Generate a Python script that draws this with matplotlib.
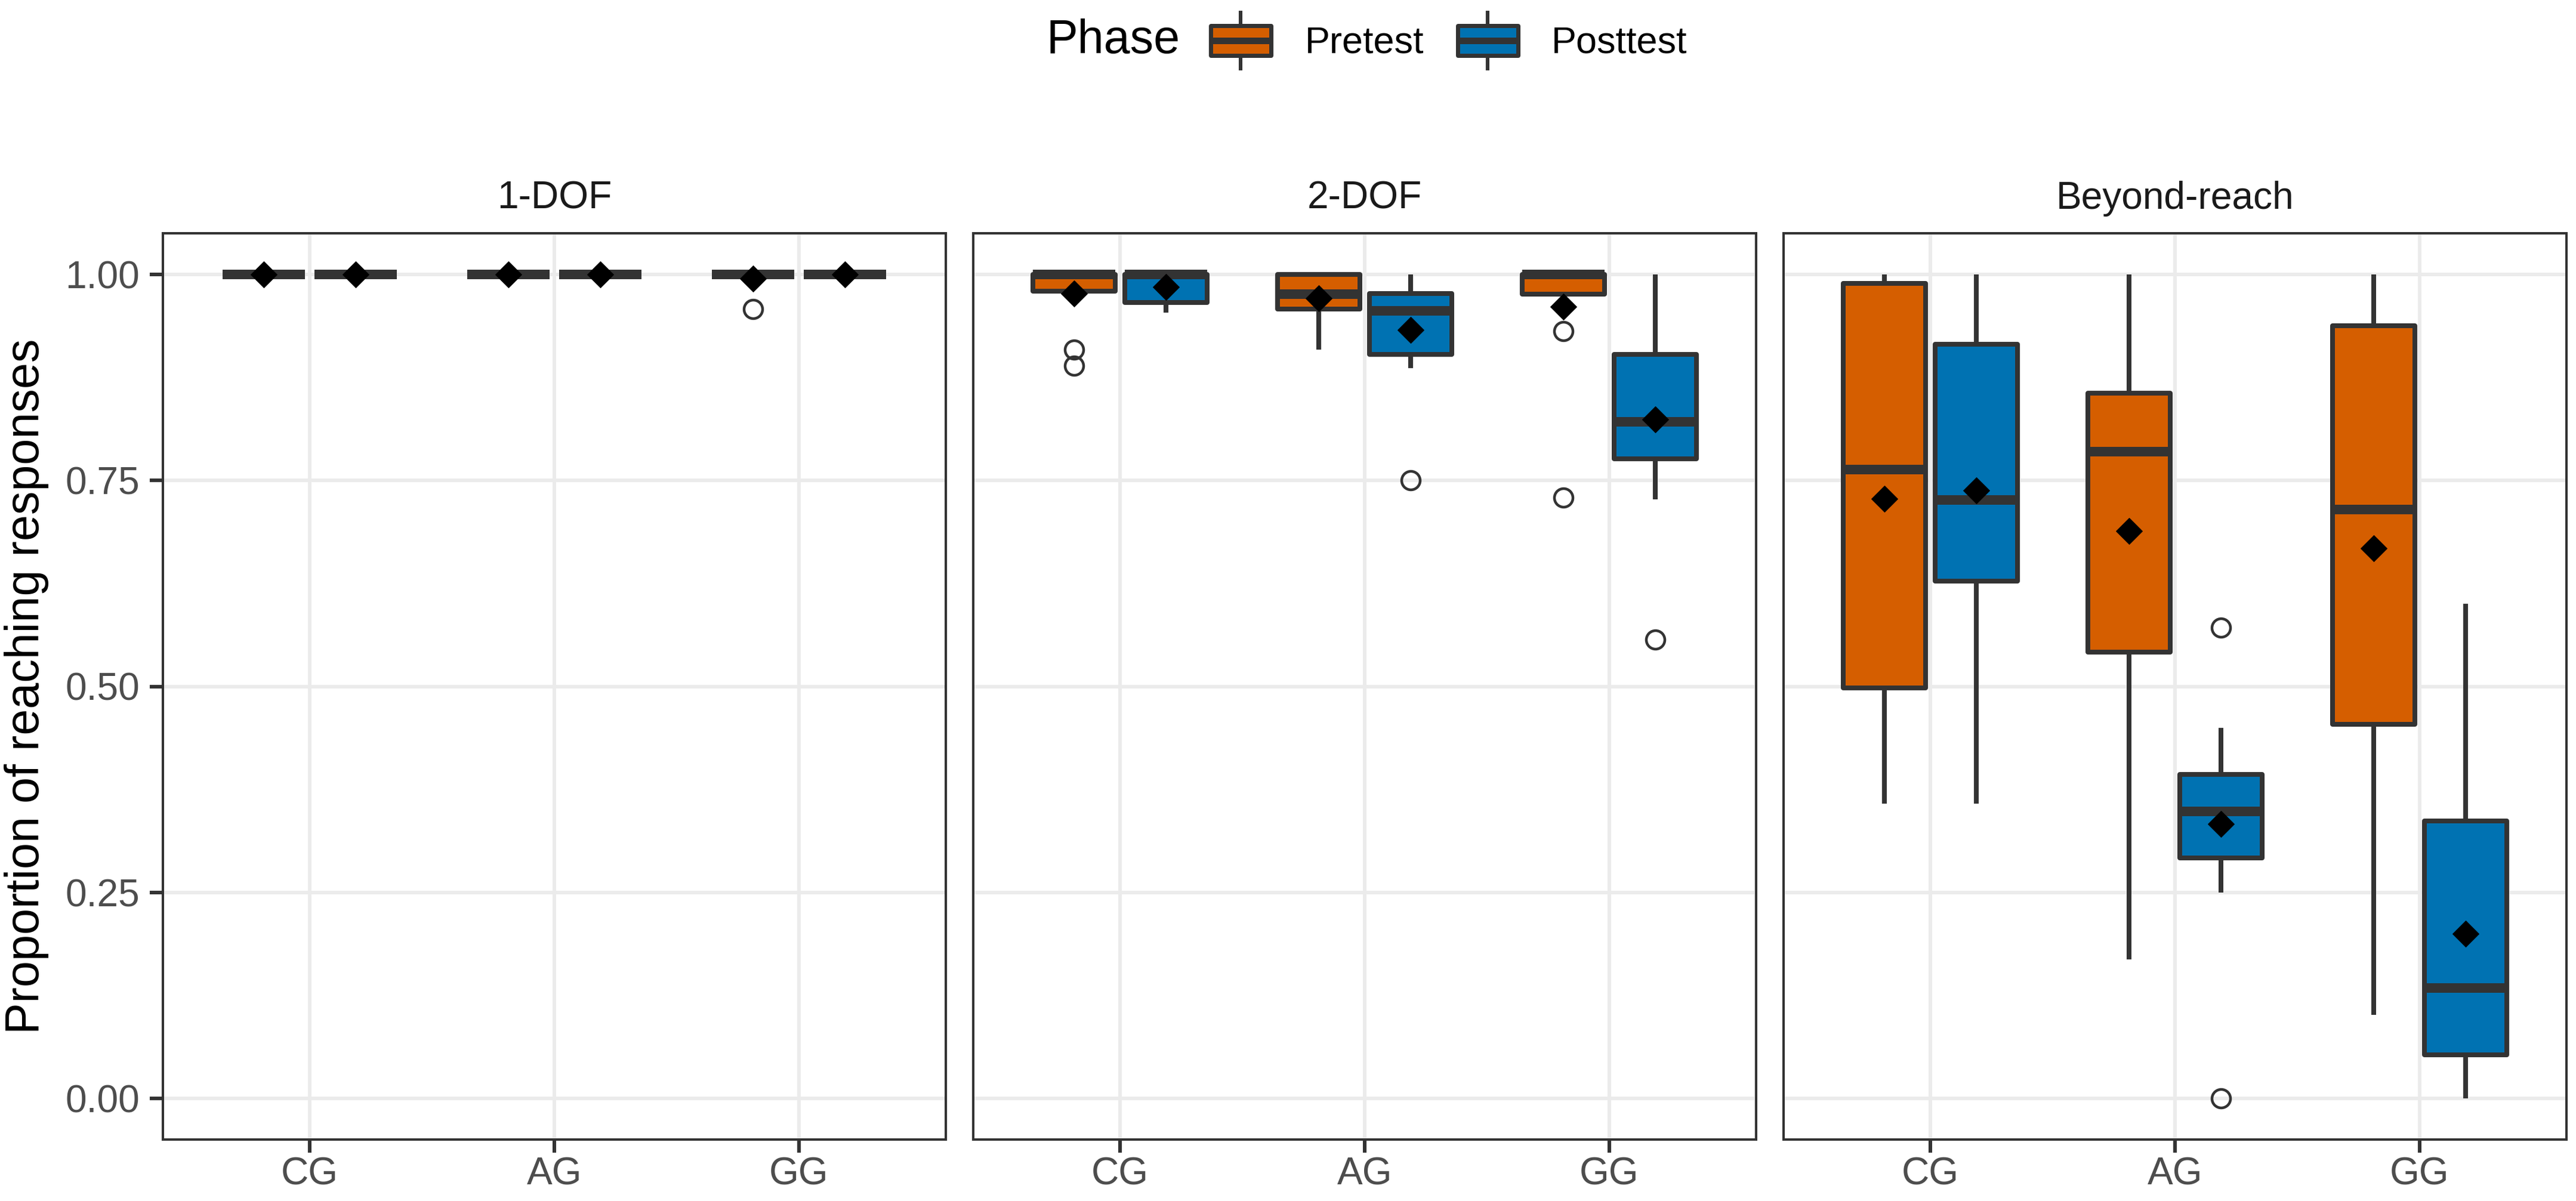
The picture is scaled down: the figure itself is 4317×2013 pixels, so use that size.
import matplotlib
matplotlib.use("Agg")
import matplotlib.pyplot as plt
from matplotlib.legend_handler import HandlerBase
from matplotlib.patches import Rectangle, Patch
from matplotlib.lines import Line2D

plt.rcParams['font.family'] = ['Liberation Sans', 'DejaVu Sans']

# ---------------- data ----------------
panels = ['1-DOF', '2-DOF', 'Beyond-reach']
groups = ['CG', 'AG', 'GG']
phases = ['Pretest', 'Posttest']
# order inside each panel: CG-Pre, CG-Post, AG-Pre, AG-Post, GG-Pre, GG-Post
dof1_q1 = [1.0, 1.0, 1.0, 1.0, 1.0, 1.0]
dof1_med = [1.0, 1.0, 1.0, 1.0, 1.0, 1.0]
dof1_q3 = [1.0, 1.0, 1.0, 1.0, 1.0, 1.0]
dof1_lo = [1.0, 1.0, 1.0, 1.0, 1.0, 1.0]
dof1_hi = [1.0, 1.0, 1.0, 1.0, 1.0, 1.0]
dof1_mean = [1.0, 1.0, 1.0, 1.0, 0.995, 1.0]
dof1_out = [[], [], [], [], [0.958], []]

dof2_q1 = [0.980, 0.966, 0.958, 0.903, 0.976, 0.776]
dof2_med = [1.0, 1.0, 0.976, 0.956, 1.0, 0.821]
dof2_q3 = [1.0, 1.0, 1.0, 0.977, 1.0, 0.903]
dof2_lo = [0.980, 0.954, 0.909, 0.886, 0.976, 0.727]
dof2_hi = [1.0, 1.0, 1.0, 1.0, 1.0, 1.0]
dof2_mean = [0.977, 0.985, 0.971, 0.933, 0.961, 0.824]
dof2_out = [[0.909, 0.889], [], [], [0.75], [0.931, 0.729], [0.557]]

br_q1 = [0.498, 0.628, 0.542, 0.292, 0.454, 0.053]
br_med = [0.763, 0.726, 0.785, 0.348, 0.715, 0.134]
br_q3 = [0.989, 0.915, 0.856, 0.393, 0.938, 0.337]
br_lo = [0.358, 0.358, 0.169, 0.25, 0.101, 0.0]
br_hi = [1.0, 1.0, 1.0, 0.45, 1.0, 0.6]
br_mean = [0.728, 0.738, 0.689, 0.333, 0.668, 0.2]
br_out = [[], [], [], [0.571, 0.0], [], []]

yticks = [0.0, 0.25, 0.50, 0.75, 1.00]
ytick_labels = ['0.00', '0.25', '0.50', '0.75', '1.00']

panel_data = [
    (dof1_q1, dof1_med, dof1_q3, dof1_lo, dof1_hi, dof1_mean, dof1_out),
    (dof2_q1, dof2_med, dof2_q3, dof2_lo, dof2_hi, dof2_mean, dof2_out),
    (br_q1, br_med, br_q3, br_lo, br_hi, br_mean, br_out),
]

# ---------------- style ----------------
phase_colors = {'Pretest': '#D55E00', 'Posttest': '#0072B2'}
edge = '#333333'
grid_c = '#EBEBEB'
W, H = 4317, 2013
DPI = 72
fig = plt.figure(figsize=(W / DPI, H / DPI), dpi=DPI)

lefts = [273, 1631, 2989]
pw = 1312
top, bottom = 391, 1910

dodge = 0.1875
bw = 0.3375
lw_box = 8
lw_med = 16

axes = []
for k, (name, data) in enumerate(zip(panels, panel_data)):
    ax = fig.add_axes([lefts[k] / W, 1 - bottom / H, pw / W, (bottom - top) / H])
    axes.append(ax)
    q1, med, q3, lo, hi, mean, out = data
    stats, positions, colors = [], [], []
    idx = 0
    for gi, g in enumerate(groups):
        for pi, ph in enumerate(phases):
            stats.append(dict(q1=q1[idx], med=med[idx], q3=q3[idx],
                              whislo=lo[idx], whishi=hi[idx],
                              mean=mean[idx], fliers=out[idx]))
            positions.append(gi + 1 + (dodge if pi == 1 else -dodge))
            colors.append(phase_colors[ph])
            idx += 1
    bp = ax.bxp(stats, positions=positions, widths=bw, patch_artist=True,
                showmeans=True, showcaps=False, showfliers=True,
                boxprops=dict(edgecolor=edge, linewidth=lw_box, joinstyle='round'),
                medianprops=dict(color=edge, linewidth=lw_med, solid_capstyle='butt'),
                whiskerprops=dict(color=edge, linewidth=lw_box, solid_capstyle='butt'),
                flierprops=dict(marker='o', markersize=31, markerfacecolor='none',
                                markeredgecolor=edge, markeredgewidth=4.5),
                meanprops=dict(marker='D', markersize=31, markerfacecolor='black',
                               markeredgecolor='black'))
    for patch, c in zip(bp['boxes'], colors):
        patch.set_facecolor(c)
    for m in bp['means']:
        m.set_zorder(5)

    ax.set_xlim(0.4, 3.6)
    ax.set_ylim(-0.05, 1.05)
    ax.set_xticks([1, 2, 3])
    ax.set_xticklabels(groups)
    ax.set_yticks(yticks)
    ax.set_yticklabels(ytick_labels)
    ax.set_axisbelow(True)
    ax.grid(True, color=grid_c, linewidth=6)
    for s in ax.spines.values():
        s.set_color(edge)
        s.set_linewidth(4)
    ax.tick_params(axis='both', colors=edge, width=6, length=22, labelsize=64,
                   labelcolor='#4D4D4D')
    ax.tick_params(axis='x', pad=6)
    ax.tick_params(axis='y', pad=17)
    if k > 0:
        ax.tick_params(axis='y', left=False, labelleft=False)
    ax.set_title(name, fontsize=64, color='#1A1A1A', pad=41)

fig.text(45 / W, 1 - ((top + bottom) / 2) / H, 'Proportion of reaching responses',
         rotation=90, ha='center', va='center', fontsize=79, color='black')


# ---------------- legend ----------------
class BoxKey(HandlerBase):
    def create_artists(self, legend, orig, xd, yd, w, h, fs, trans):
        fc = orig.get_facecolor()
        x0, y0 = -xd, -yd
        cx = x0 + w / 2
        wh = Line2D([cx, cx], [y0, y0 + h], color=edge, lw=6, transform=trans)
        rect = Rectangle((x0, y0 + 0.23 * h), w, 0.54 * h, facecolor=fc,
                         edgecolor=edge, lw=7, joinstyle='round', transform=trans)
        md = Line2D([x0, x0 + w], [y0 + h / 2, y0 + h / 2], color=edge, lw=11,
                    solid_capstyle='butt', transform=trans)
        return [wh, rect, md]


handles = [Patch(facecolor=phase_colors[p]) for p in phases]
fig.text(1754 / W, 1 - 68 / H, 'Phase', fontsize=79, ha='left', va='center')
fig.legend(handles, phases, handler_map={Patch: BoxKey()}, loc='center left',
           bbox_to_anchor=(2029 / W, 1 - 68 / H), ncol=2, frameon=False,
           fontsize=63, handlelength=1.6, handleheight=1.9, handletextpad=0.9,
           columnspacing=0.9, borderpad=0, borderaxespad=0)

fig.savefig('out.png', dpi=DPI, facecolor='white')
